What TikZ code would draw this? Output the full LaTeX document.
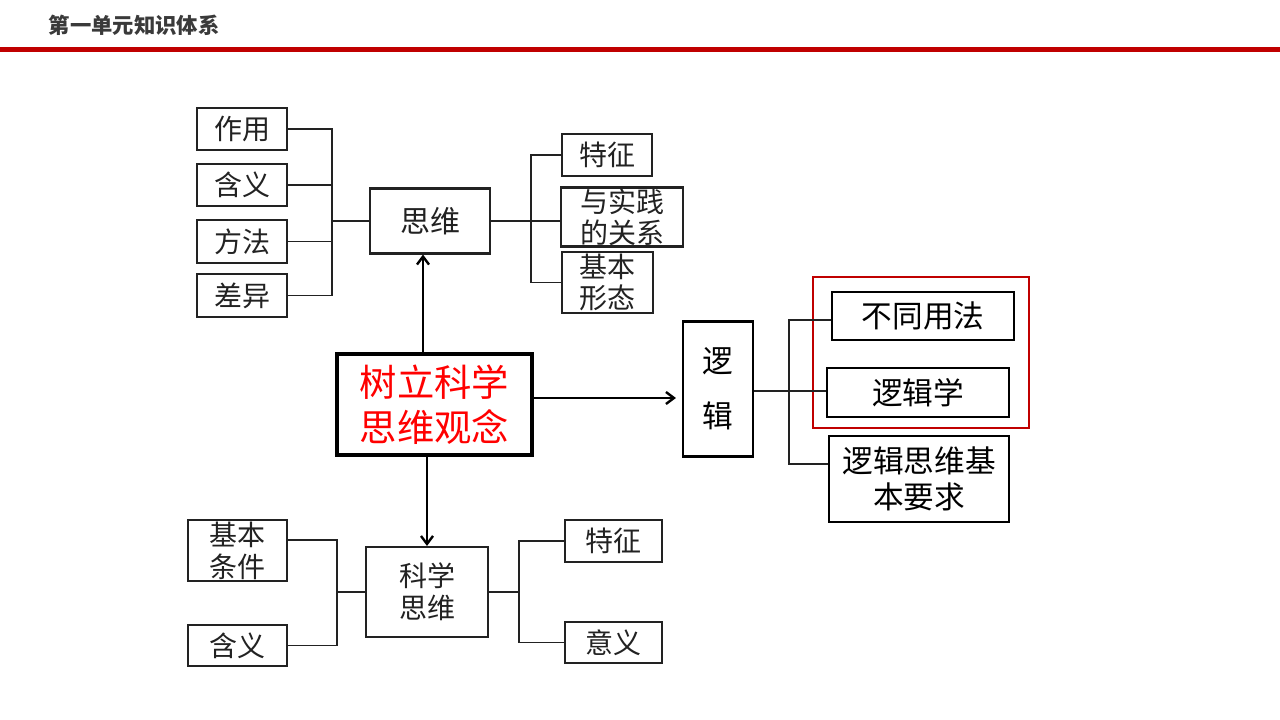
\documentclass[tikz,border=0pt]{standalone}
\usepackage{fontspec}
\usetikzlibrary{arrows.meta}
\newfontfamily\cjk{Noto Sans CJK SC}
\definecolor{hdrred}{HTML}{C00000}
\definecolor{boxred}{HTML}{C00000}
\definecolor{ink}{HTML}{222222}
\definecolor{titleink}{HTML}{3A3A3A}
\tikzset{
  box/.style={draw=ink, line width=1.6pt, inner sep=0pt, align=center, text=ink,
              font=\cjk\fontsize{21pt}{23pt}\selectfont},
  bigbox/.style={box, draw=black, line width=2.4pt, text=red,
              font=\cjk\fontsize{28pt}{34pt}\selectfont},
  lbox/.style={box, draw=black, text=black, font=\cjk\fontsize{23pt}{27pt}\selectfont},
  conn/.style={draw=ink, line width=1.3pt},
  arr/.style={draw=black, line width=1.8pt, -{Straight Barb[length=6pt,width=9pt,line width=1.8pt]}},
}
\begin{document}
\begin{tikzpicture}[x=0.75pt,y=-0.75pt]
\path[use as bounding box, fill=white] (0,0) rectangle (1280,720);
% header
\node[anchor=west, text=titleink, font=\cjk\bfseries\fontsize{16pt}{18pt}\selectfont] (title) at (44,25) {第一单元知识体系};
\fill[hdrred] (0,47) rectangle (1280,52.5);

% top group
\node[box, minimum width=67.5pt, minimum height=31.5pt] (zy) at (242,129) {作用};
\node[box, minimum width=67.5pt, minimum height=31.5pt] (hy) at (242,185) {含义};
\node[box, minimum width=67.5pt, minimum height=32.25pt] (ff) at (242,241.5) {方法};
\node[box, minimum width=67.5pt, minimum height=32.25pt] (cy) at (242,295.5) {差异};
\node[box, minimum width=90pt, minimum height=48.75pt, font=\cjk\fontsize{22.5pt}{24pt}\selectfont] (sw) at (430,221) {思维};
\node[box, minimum width=67.5pt, minimum height=31.5pt] (tz) at (607,155) {特征};
\node[box, minimum width=91.5pt, minimum height=44.25pt] (sj) at (622,217) {与实践\\的关系};
\node[box, minimum width=68.25pt, minimum height=45.75pt] (jb) at (607.5,282.5) {基本\\形态};

\coordinate (b1) at (332,221);
\draw[conn] (sw.west) -- (b1);
\draw[conn] (zy.east) -| (b1);
\draw[conn] (cy.east) -| (b1);
\draw[conn] (hy.east) -- (hy.east -| b1);
\draw[conn] (ff.east) -- (ff.east -| b1);

\coordinate (b2) at (531,221);
\draw[conn] (sw.east) -- (sw.east -| sj.west);
\draw[conn] (tz.west) -| (b2);
\draw[conn] (jb.west) -| (b2);

% main box
\node[bigbox, minimum width=146.25pt, minimum height=75.75pt] (main) at (434.5,404.5) {树立科学\\思维观念};

% bottom group
\node[box, minimum width=91.5pt, minimum height=67.5pt, font=\cjk\fontsize{21pt}{24pt}\selectfont] (kx) at (427,592) {科学\\思维};
\node[box, minimum width=74.25pt, minimum height=45.75pt, font=\cjk\fontsize{21pt}{24pt}\selectfont] (jbtj) at (237.5,550.5) {基本\\条件};
\node[box, minimum width=74.25pt, minimum height=30.75pt] (hy2) at (237.5,645.5) {含义};
\node[box, minimum width=72.75pt, minimum height=31.5pt] (tz2) at (613.5,541) {特征};
\node[box, minimum width=72.75pt, minimum height=30.75pt] (yy) at (613.5,642.5) {意义};

\coordinate (b3) at (337,592);
\draw[conn] (kx.west) -- (b3);
\draw[conn] ([yshift=8pt]jbtj.east) -| (b3);
\draw[conn] (hy2.east) -| (b3);
\coordinate (b4) at (519,592);
\draw[conn] (kx.east) -- (b4);
\draw[conn] (tz2.west) -| (b4);
\draw[conn] (yy.west) -| (b4);

% logic group
\node[lbox, minimum width=52.5pt, minimum height=101.25pt, font=\cjk\fontsize{23pt}{41pt}\selectfont] (lj) at (718,389) {逻\\辑};
\node[lbox, minimum width=136.5pt, minimum height=36pt] (bt) at (923,316) {不同用法};
\node[lbox, minimum width=136.5pt, minimum height=36.75pt] (ljx) at (918,392.5) {逻辑学};
\node[lbox, minimum width=135pt, minimum height=64.5pt] (yq) at (919,479) {逻辑思维基\\本要求};
\draw[draw=boxred, line width=2.2pt] (813,277) rectangle (1029,428);

\coordinate (b5) at (789,391);
\draw[conn] (lj.east |- b5) -- (b5 -| ljx.west);
\draw[conn] ([yshift=-3pt]bt.west) -| (b5);
\draw[conn] ([yshift=11pt]yq.west) -| (b5);

% arrows
\coordinate (ax) at (423,0);
\coordinate (ay) at (0,398);
\draw[arr] (main.north -| ax) -- (sw.south -| ax);
\draw[arr] (main.south -| kx.north) -- (kx.north);
\draw[arr, shorten >=4.5pt] (main.east |- ay) -- (lj.west |- ay);
\end{tikzpicture}
\end{document}
